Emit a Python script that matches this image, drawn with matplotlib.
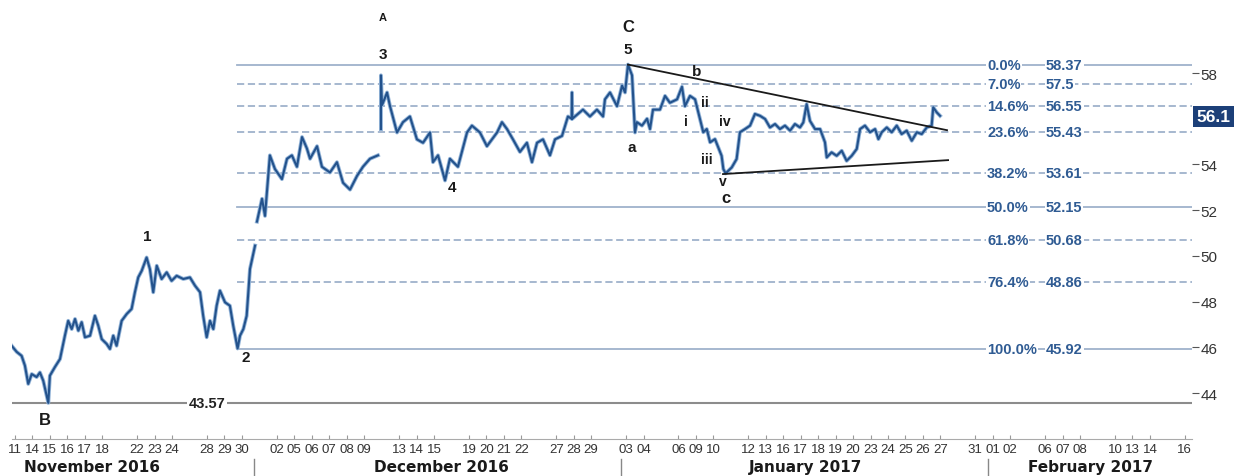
import numpy as np
import pandas as pd
import matplotlib
matplotlib.use("Agg")
import matplotlib.pyplot as plt
import matplotlib.transforms as mtransforms

# trading calendar (ICE closed Dec 26 and Jan 2)
days = pd.bdate_range("2016-11-11", "2017-02-16")
days = days[~days.isin(pd.to_datetime(["2016-12-26", "2017-01-02"]))]

shown_days = [
    "2016-11-11", "2016-11-14", "2016-11-15", "2016-11-16", "2016-11-17", "2016-11-18",
    "2016-11-22", "2016-11-23", "2016-11-24", "2016-11-28", "2016-11-29", "2016-11-30",
    "2016-12-02", "2016-12-05", "2016-12-06", "2016-12-07", "2016-12-08", "2016-12-09",
    "2016-12-13", "2016-12-14", "2016-12-15", "2016-12-19", "2016-12-20", "2016-12-21",
    "2016-12-22", "2016-12-27", "2016-12-28", "2016-12-29",
    "2017-01-03", "2017-01-04", "2017-01-06", "2017-01-09", "2017-01-10", "2017-01-12",
    "2017-01-13", "2017-01-16", "2017-01-17", "2017-01-18", "2017-01-19", "2017-01-20",
    "2017-01-23", "2017-01-24", "2017-01-25", "2017-01-26", "2017-01-27", "2017-01-31",
    "2017-02-01", "2017-02-02", "2017-02-06", "2017-02-07", "2017-02-08", "2017-02-10",
    "2017-02-13", "2017-02-14", "2017-02-16",
]
months = ["November 2016", "December 2016", "January 2017", "February 2017"]
month_centers = [4.4, 24.4, 45.3, 61.6]
month_starts = ["2016-12-01", "2017-01-03", "2017-02-01"]

# price path, position in trading days (nan = gap)
t_day = [
    -0.19, 0.10, 0.38, 0.57, 0.76, 0.96, 1.24, 1.43, 1.62, 1.91, 2.00, 2.29, 2.58, 2.86,
    3.05, 3.25, 3.44, 3.63, 3.82, 4.01, 4.30, 4.58, 4.77, 4.97, 5.25, 5.44, 5.63, 5.82,
    6.11, 6.40, 6.68, 6.87, 7.06, 7.26, 7.54, 7.73, 7.92, 8.12, 8.40, 8.69, 8.97, 9.26,
    9.64, 10.02, 10.31, 10.60, 10.78, 10.98, 11.17, 11.36, 11.55, 11.74, 12.03, 12.31,
    12.50, 12.75, 12.89, 13.08, 13.27, 13.46, 13.75, np.nan,
    13.86, 14.15, 14.32, 14.60, 14.89, 15.29, 15.58, 15.86, 16.15, 16.44, 16.72, 16.90,
    17.30, 17.58, 18.04, 18.44, 18.79, 19.19, 19.59, 19.93, 20.33, 20.79, np.nan,
    20.96, 20.96, 21.02, 21.08, 21.31, 21.48, 21.88, 22.22, 22.62, 23.02, 23.37, 23.77,
    23.94, 24.23, 24.63, 24.91, 25.37, 25.89, 26.17, 26.63, 27.03, 27.61, 27.89, 28.18,
    28.52, 28.92, 29.32, 29.61, 29.90, 30.24, 30.64, 30.93, 31.33, 31.67, 31.88, 31.90,
    31.92, 32.07, 32.53, 32.93, 33.33, 33.68, 33.79, 34.08, 34.48, 34.77, 34.94, 35.11,
    35.34, 35.51, 35.62, 35.91, 36.20, 36.37, 36.54, 36.94, 37.23, 37.51, 37.92, 38.20,
    38.37, 38.66, 38.95, 39.23, 39.42, 39.62, 39.81, 40.09, 40.28, 40.47, 40.57, 40.70,
    41.05, 41.33, 41.52, 41.81, 42.10, 42.38, 42.67, 42.96, 43.24, 43.53, 43.81, 44.10,
    44.39, 44.67, 44.96, 45.15, 45.34, 45.53, 45.82, 46.11, 46.39, 46.49, 46.77, 47.06,
    47.35, 47.63, 47.92, 48.21, 48.40, 48.68, 48.97, 49.26, 49.45, 49.64, 49.93, 50.21,
    50.50, 50.78, 51.07, 51.36, 51.65, 51.93, 52.22, 52.50, 52.59, 52.79, 52.98,
]
price = [
    46.07, 45.80, 45.63, 45.20, 44.40, 44.83, 44.70, 44.90, 44.54, 43.57, 44.76, 45.14, 45.49, 46.51,
    47.16, 46.80, 47.24, 46.73, 47.10, 46.44, 46.51, 47.38, 46.95, 46.36, 46.15, 45.93, 46.51, 46.07,
    47.16, 47.46, 47.68, 48.41, 49.06, 49.35, 49.93, 49.42, 48.41, 49.57, 48.99, 49.28, 48.91, 49.13,
    48.99, 49.06, 48.70, 48.41, 47.38, 46.44, 47.16, 46.80, 47.82, 48.48, 47.97, 47.82,
    46.95, 45.95, 46.51, 46.80, 47.38, 49.43, 50.45, np.nan,
    51.50, 52.50, 51.75, 54.40, 53.80, 53.36, 54.25, 54.40, 53.90, 55.20, 54.70, 54.25,
    54.80, 53.90, 53.65, 54.10, 53.20, 52.90, 53.50, 53.90, 54.25, 54.40, np.nan,
    55.55, 57.90, 56.60, 56.70, 57.15, 56.55, 55.40, 55.85, 56.10, 55.10, 54.95, 55.40,
    54.10, 54.40, 53.30, 54.25, 53.90, 55.40, 55.70, 55.40, 54.80, 55.40, 55.85, 55.55,
    55.10, 54.55, 54.95, 54.10, 54.95, 55.10, 54.40, 55.10, 55.25, 56.10, 56.00, 57.15,
    56.00, 56.10, 56.40, 56.10, 56.40, 56.10, 56.85, 57.15, 56.55, 57.45, 57.15, 58.37,
    57.90, 55.40, 55.85, 55.70, 56.00, 55.55, 56.40, 56.40, 57.00, 56.70, 56.85, 57.40,
    56.55, 57.00, 56.85, 55.99, 55.41, 55.55, 54.97, 55.11, 54.75, 54.38, 53.80, 53.61,
    53.87, 54.24, 55.41, 55.55, 55.70, 56.21, 56.13, 55.99, 55.62, 55.77, 55.55, 55.70,
    55.48, 55.77, 55.62, 55.84, 56.64, 55.91, 55.55, 55.55, 54.97, 54.31, 54.53, 54.38,
    54.60, 54.16, 54.38, 54.68, 55.55, 55.70, 55.41, 55.55, 55.11, 55.41, 55.62, 55.41,
    55.70, 55.33, 55.48, 55.04, 55.41, 55.33, 55.62, 55.70, 56.50, 56.28, 56.13,
]
last_price = 56.1

fib_pct = ["0.0%", "7.0%", "14.6%", "23.6%", "38.2%", "50.0%", "61.8%", "76.4%", "100.0%"]
fib_val = [58.37, 57.5, 56.55, 55.43, 53.61, 52.15, 50.68, 48.86, 45.92]
fib_solid = ["0.0%", "50.0%", "100.0%"]
low_b = 43.57

# triangle trendlines (start/end in trading days)
upper_t, upper_p = [35.11, 53.38], [58.37, 55.5]
lower_t, lower_p = [40.55, 53.44], [53.58, 54.19]

wave_labels = [
    ("A", 21.08, 60.45, 8), ("3", 21.08, 58.82, 11), ("C", 35.11, 60.02, 12),
    ("5", 35.11, 59.05, 11), ("b", 39.06, 58.08, 11), ("ii", 39.52, 56.72, 10),
    ("i", 38.43, 55.89, 10), ("iv", 40.66, 55.89, 10), ("a", 35.34, 54.76, 11),
    ("iii", 39.63, 54.23, 10), ("v", 40.55, 53.27, 10), ("c", 40.72, 52.57, 12),
    ("4", 25.03, 53.01, 11), ("1", 7.56, 50.89, 11), ("2", 13.23, 45.57, 11),
    ("B", 1.72, 42.86, 12),
]

slot = {d.strftime("%Y-%m-%d"): i for i, d in enumerate(days)}

fig = plt.figure(figsize=(12.36, 4.77), dpi=100)
ax = fig.add_axes([0.0097, 0.0776, 0.9547, 0.9224])
ax.set_xlim(-0.17, 67.41)
ax.set_ylim(41.99, 61.24)

fib_col = "#9fb2cb"
txt_blue = "#2f5b93"
for p, v in zip(fib_pct, fib_val):
    ls = "-" if p in fib_solid else (0, (4, 2))
    ax.plot([12.7, 67.41], [v, v], color=fib_col, lw=1.3, ls=ls, zorder=1)
    ax.text(55.67, v, p, color=txt_blue, fontsize=10.5, fontweight="bold",
            family="Liberation Sans", ha="left", va="center", zorder=2,
            bbox=dict(facecolor="white", edgecolor="none", pad=0.6))
    ax.text(59.05, v, f"{v:g}", color=txt_blue, fontsize=10.5, fontweight="bold",
            family="Liberation Sans", ha="left", va="center", zorder=2,
            bbox=dict(facecolor="white", edgecolor="none", pad=0.6))

ax.plot([-0.17, 67.41], [low_b, low_b], color="#8c8c8c", lw=1.5, zorder=1)
ax.text(10.98, low_b, f"{low_b:.2f}", fontsize=10.5, fontweight="bold",
        family="Liberation Sans", color="#222222", ha="center", va="center",
        bbox=dict(facecolor="white", edgecolor="none", pad=1.2), zorder=2)

# price
ax.plot(t_day, price, color="#93b4d8", lw=2.8, zorder=3, solid_joinstyle="round")
ax.plot(t_day, price, color="#23528c", lw=1.5, zorder=4, solid_joinstyle="round")

ax.plot(upper_t, upper_p, color="#1a1a1a", lw=1.3, zorder=5)
ax.plot(lower_t, lower_p, color="#1a1a1a", lw=1.3, zorder=5)

for s, x, y, fs in wave_labels:
    ax.text(x, y, s, fontsize=fs, fontweight="bold", family="Liberation Sans",
            color="#1a1a1a", ha="center", va="center", zorder=6)

# right price axis (56 hidden behind the last-price box)
ax.yaxis.tick_right()
ax.set_yticks([44, 46, 48, 50, 52, 54, 58])
ax.tick_params(axis="y", length=5, color="#555555", labelsize=11, pad=1,
               labelcolor="#333333")
for lab in ax.get_yticklabels():
    lab.set_family("Liberation Sans")

ax.text(1.004, last_price, f"{last_price}",
        transform=mtransforms.blended_transform_factory(ax.transAxes, ax.transData),
        color="white", fontsize=12.5, fontweight="bold", family="Liberation Sans",
        ha="left", va="center", zorder=7, clip_on=False,
        bbox=dict(facecolor="#1c3f78", edgecolor="none", pad=2.5))

# date axis
ax.set_xticks([slot[d] for d in shown_days])
ax.set_xticklabels([d[-2:] for d in shown_days])
ax.tick_params(axis="x", direction="in", length=3, color="#999999", labelsize=9.5,
               pad=3, labelcolor="#333333")
for lab in ax.get_xticklabels():
    lab.set_family(["Liberation Sans Narrow", "Liberation Sans"])

for side in ["top", "left", "right"]:
    ax.spines[side].set_visible(False)
ax.spines["bottom"].set_color("#aaaaaa")
ax.spines["bottom"].set_linestyle((0, (2, 1)))

trans = mtransforms.blended_transform_factory(ax.transData, ax.transAxes)
for m in month_starts:
    xs = slot[m] - 0.3
    ax.plot([xs, xs], [-0.045, -0.09], color="#888888", lw=1, transform=trans, clip_on=False)
for name, xc in zip(months, month_centers):
    ax.text(xc, -0.063, name, transform=trans, fontsize=11, fontweight="bold",
            family="DejaVu Sans", color="#1a1a1a", ha="center", va="center", clip_on=False)

fig.savefig("out.png", dpi=100)
